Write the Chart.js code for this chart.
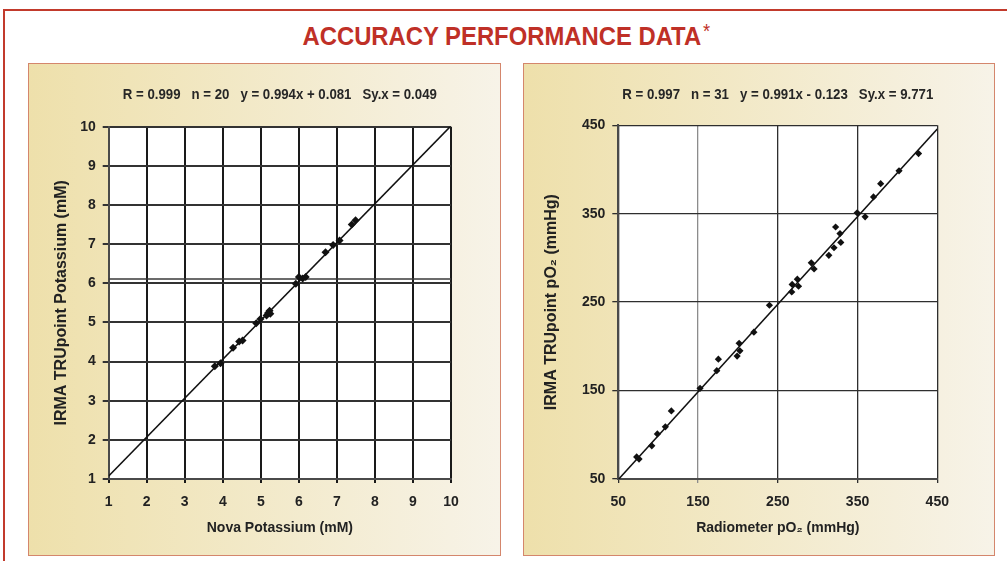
<!DOCTYPE html>
<html>
<head>
<meta charset="utf-8">
<script src="https://cdn.jsdelivr.net/npm/chart.js@4.4.1/dist/chart.umd.min.js"></script>
<style>
  html, body { margin: 0; padding: 0; background: #fff; width: 1007px; height: 561px; overflow: hidden; }
  #frame { position: absolute; left: 3px; top: 9px; width: 1100px; height: 600px; border: 2px solid #c23a2c; }
  #heading { position: absolute; left: 0; top: 21px; width: 1012px; text-align: center; line-height: 30px; }
  #hText { display: inline-block; transform-origin: 50% 50%; white-space: nowrap;
           font-family: "Liberation Sans", Arial, sans-serif; font-weight: bold; font-size: 26px; color: #bf3027; }
  #hText span { font-weight: normal; font-size: 20px; vertical-align: top; position: relative; top: -5px; margin-left: 2px; }
  .panel { position: absolute; top: 63px; height: 493px; box-sizing: border-box; border: 1px solid #d4866c;
           background: linear-gradient(to right, #eee0ab, #f7f3e8); }
  #p1 { left: 28px; width: 473px; }
  #p2 { left: 523px; width: 472px; }
  canvas { position: absolute; left: 0; top: 0; }
</style>
</head>
<body>
<div id="frame"></div>
<div id="heading"><span id="hText">ACCURACY PERFORMANCE DATA<span>*</span></span></div>
<div class="panel" id="p1"><canvas id="kChart" width="471" height="491"></canvas></div>
<div class="panel" id="p2"><canvas id="o2Chart" width="470" height="491"></canvas></div>

<script>
// --- Potassium (mM) ---
const kNova = [3.79, 3.94, 4.27, 4.43, 4.52, 4.88, 4.99, 5.15, 5.19, 5.23, 5.25, 5.92, 6.00, 6.10, 6.18, 6.70, 6.90, 7.07, 7.39, 7.49];
const kIrma = [3.88, 3.96, 4.35, 4.51, 4.54, 4.98, 5.09, 5.18, 5.24, 5.30, 5.22, 5.99, 6.16, 6.12, 6.16, 6.79, 6.98, 7.09, 7.50, 7.61];
const kTicks = [1, 2, 3, 4, 5, 6, 7, 8, 9, 10];
const kFit = [0.994, 0.081];      // pente, ordonnée
const kExtraLine = [6.11];        // trait horizontal parasite de l'original
const kStats = 'R = 0.999   n = 20   y = 0.994x + 0.081   Sy.x = 0.049';

// --- pO2 (mmHg) ---
const o2Radiometer = [73, 76, 92, 99, 109, 116.5, 152.5, 173.5, 175.5, 199, 201.5, 202.5, 220, 239.5, 267.5, 268, 274.5, 276, 292, 295.5, 314, 320.5, 322.5, 328, 329, 349.5, 359.5, 370, 379, 402, 426.5];
const o2Irma = [75, 72.5, 87.5, 101, 109, 127, 152.5, 172.5, 185.5, 189, 203.5, 195, 216, 246.5, 261.5, 270, 276, 268, 294.5, 287.5, 303, 311.5, 335, 327.5, 317.5, 351, 346.5, 369, 384, 398.5, 418];
const o2Ticks = [50, 150, 250, 350, 450];
const o2Fit = [0.991, -0.123];
const o2Stats = 'R = 0.997   n = 31   y = 0.991x - 0.123   Sy.x = 9.771';

const SANS = '"Liberation Sans", Arial, sans-serif';

// titre condensé (pas de police étroite installée)
const hText = document.getElementById('hText');
hText.style.transform = 'scaleX(' + (408 / hText.offsetWidth) + ')';

// fond blanc de la zone de tracé
const plotBg = {
    id: 'plotBg',
    beforeDraw(chart) {
        const { ctx, chartArea: a } = chart;
        ctx.save();
        ctx.fillStyle = '#ffffff';
        ctx.fillRect(a.left, a.top, a.right - a.left, a.bottom - a.top);
        ctx.restore();
    }
};

// texte des stats au-dessus de la zone du graphique, condensé à la largeur voulue
const statsText = {
    id: 'statsText',
    afterDraw(chart, args, opts) {
        const { ctx, chartArea } = chart;
        ctx.save();
        ctx.font = opts.font;
        ctx.fillStyle = '#262626';
        ctx.textAlign = 'center';
        ctx.textBaseline = 'middle';
        const w = ctx.measureText(opts.text).width;
        ctx.translate((chartArea.left + chartArea.right) / 2, opts.y);
        ctx.scale(opts.width / w, 1);
        ctx.fillText(opts.text, 0, 0);
        ctx.restore();
    }
};

function fitLine(fit, ticks) {
    const x0 = ticks[0], x1 = ticks[ticks.length - 1];
    return [{ x: x0, y: fit[0] * x0 + fit[1] }, { x: x1, y: fit[0] * x1 + fit[1] }];
}

function makeChart(id, c) {
    const points = c.xs.map((x, i) => ({ x: x, y: c.ys[i] }));
    const datasets = [
        { data: points, showLine: false, pointStyle: 'rectRot', pointRadius: c.pointR,
          backgroundColor: '#111', borderWidth: 0 },
        { type: 'line', data: fitLine(c.fit, c.ticks), borderColor: '#111', borderWidth: 1.6,
          pointRadius: 0, fill: false }
    ];
    if (c.extra) {
        c.extra.forEach(v => datasets.push({
            type: 'line', data: [{ x: c.ticks[0], y: v }, { x: c.ticks[c.ticks.length - 1], y: v }],
            borderColor: '#3a3a3a', borderWidth: 1.5, pointRadius: 0
        }));
    }

    const tickFont = { family: SANS, weight: 'bold', size: 14 };

    new Chart(document.getElementById(id), {
        type: 'scatter',
        data: { datasets: datasets },
        plugins: [plotBg, statsText],
        options: {
            responsive: false,
            animation: false,
            events: [],
            layout: { padding: { top: c.top, right: c.right, left: 0, bottom: 0 } },
            plugins: {
                legend: { display: false },
                tooltip: { enabled: false },
                statsText: { text: c.stats, y: 31, width: c.statsW, font: 'bold 14px ' + SANS }
            },
            scales: {
                x: {
                    type: 'linear', min: c.ticks[0], max: c.ticks[c.ticks.length - 1],
                    afterBuildTicks: s => { s.ticks = c.ticks.map(v => ({ value: v })); },
                    afterFit: s => { s.height = 76; },
                    grid: { color: c.xGrid, lineWidth: c.xGridW, tickLength: 4 },
                    border: { color: '#4a4a4a', width: 2 },
                    ticks: { color: '#222', font: tickFont, padding: 11, maxRotation: 0 },
                    title: { display: true, text: c.xTitle, color: '#222', font: { family: SANS, weight: 'bold', size: 14 },
                             padding: { top: 0, bottom: 18.6 } }
                },
                y: {
                    type: 'linear', min: c.ticks[0], max: c.ticks[c.ticks.length - 1],
                    afterBuildTicks: s => { s.ticks = c.ticks.map(v => ({ value: v })); },
                    afterFit: s => { s.width = c.left; },
                    grid: { color: c.yGrid, lineWidth: c.yGridW, tickLength: 6 },
                    border: { color: '#4a4a4a', width: 2 },
                    ticks: { color: '#222', font: tickFont, padding: 7 },
                    title: { display: true, text: c.yTitle, color: '#222', font: { family: SANS, weight: 'bold', size: 16 },
                             padding: { top: c.yTitlePad, bottom: 0 } }
                }
            }
        }
    });
}

makeChart('kChart', {
    xs: kNova, ys: kIrma, ticks: kTicks, fit: kFit, extra: kExtraLine, stats: kStats, statsW: 314,
    xTitle: 'Nova Potassium (mM)', yTitle: 'IRMA TRUpoint Potassium (mM)',
    left: 79.7, right: 49, top: 62.7, yTitlePad: 23.4, pointR: 4,
    xGrid: '#1a1a1a', xGridW: 2, yGrid: '#333333', yGridW: 2
});

makeChart('o2Chart', {
    xs: o2Radiometer, ys: o2Irma, ticks: o2Ticks, fit: o2Fit, stats: o2Stats, statsW: 311,
    xTitle: 'Radiometer pO\u2082 (mmHg)', yTitle: 'IRMA TRUpoint pO\u2082 (mmHg)',
    left: 94.3, right: 56.7, top: 61.3, yTitlePad: 18.4, pointR: 3.6,
    xGrid: ctx => (ctx.tick && ctx.tick.value === 150) ? '#8c8c8c' : '#2e2e2e', xGridW: 1.3,
    yGrid: '#2e2e2e', yGridW: 1.3
});
</script>
</body>
</html>
